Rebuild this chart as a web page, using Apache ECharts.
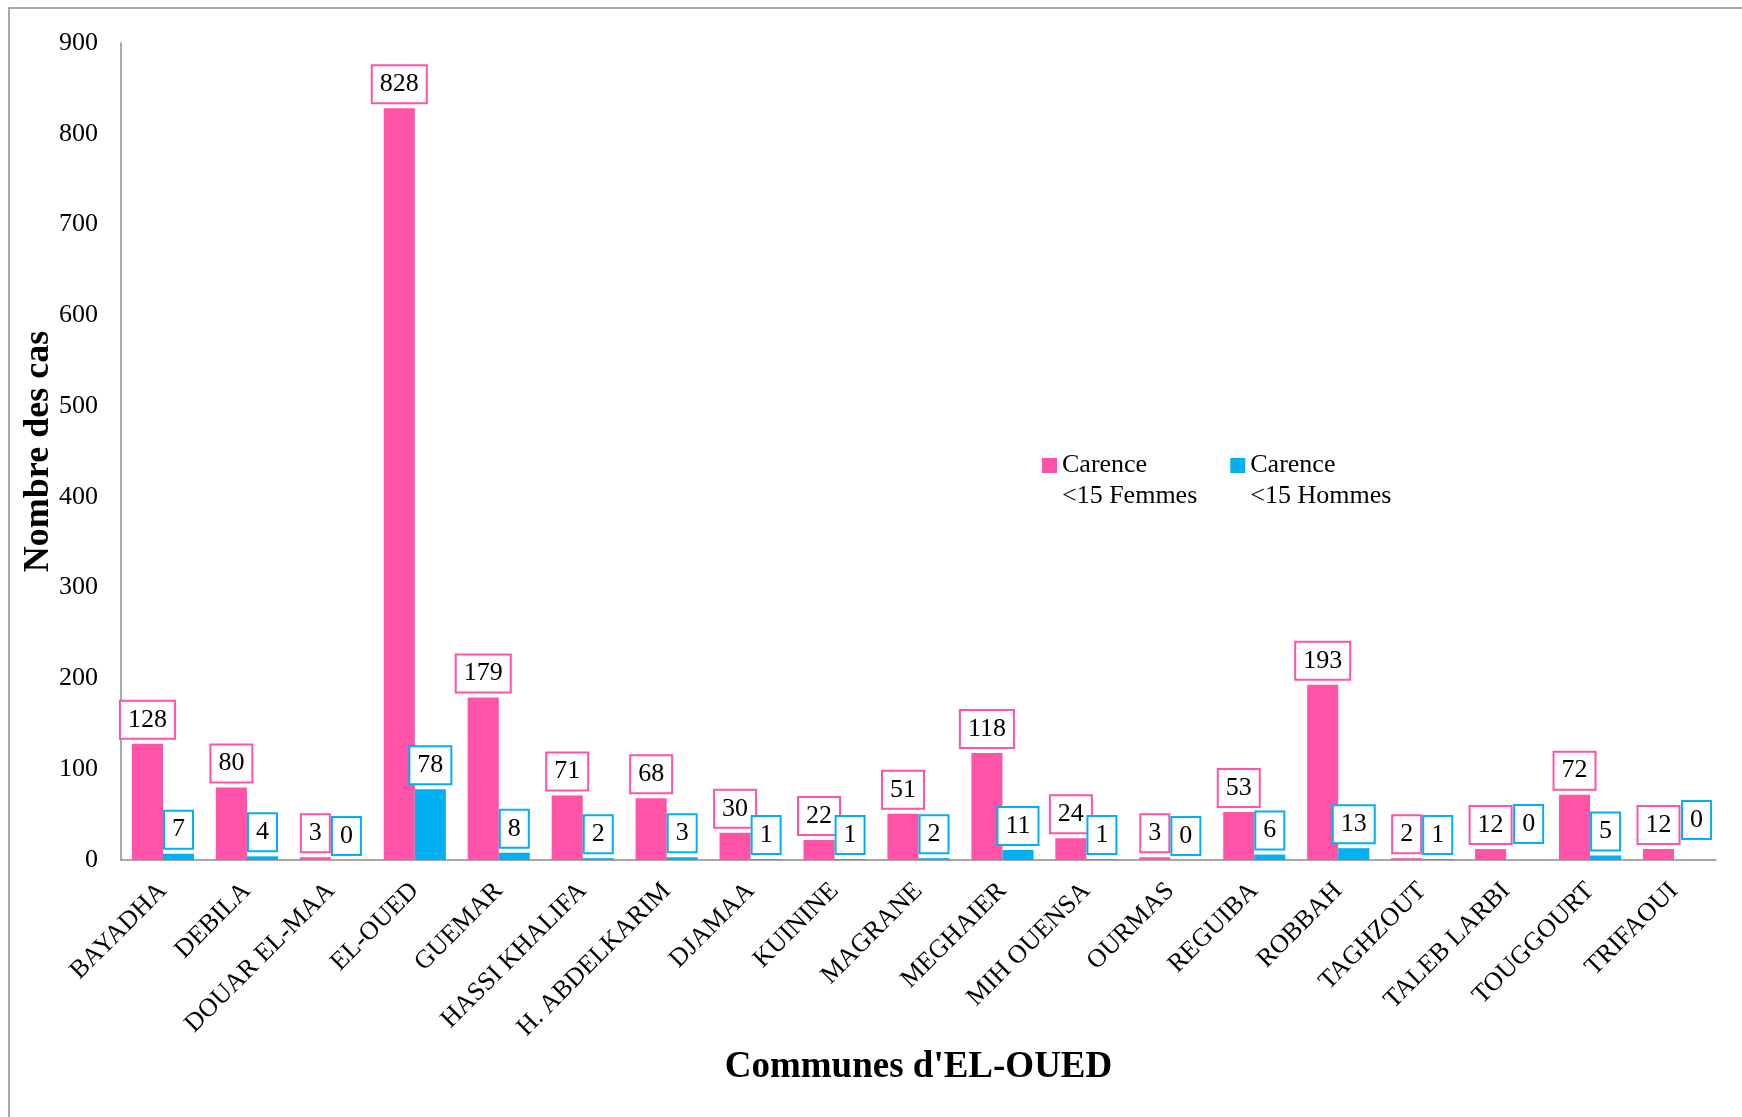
<!DOCTYPE html>
<html>
<head>
<meta charset="utf-8">
<title>Carence &lt;15 par commune</title>
<script src="https://cdn.jsdelivr.net/npm/echarts@6/dist/echarts.min.js"></script>
<style>
  html, body { margin: 0; padding: 0; background: #ffffff; }
  #chart { width: 1742px; height: 1117px; }
</style>
</head>
<body>
<div id="chart"></div>
<script>
// Communes of the El-Oued wilaya
const communes = [
  'BAYADHA', 'DEBILA', 'DOUAR EL-MAA', 'EL-OUED', 'GUEMAR', 'HASSI KHALIFA',
  'H. ABDELKARIM', 'DJAMAA', 'KUININE', 'MAGRANE', 'MEGHAIER', 'MIH OUENSA',
  'OURMAS', 'REGUIBA', 'ROBBAH', 'TAGHZOUT', 'TALEB LARBI', 'TOUGGOURT', 'TRIFAOUI'
];

// Cases of deficiency, under 15 years
const femmes = [128, 80, 3, 828, 179, 71, 68, 30, 22, 51, 118, 24, 3, 53, 193, 2, 12, 72, 12];
const hommes = [7, 4, 0, 78, 8, 2, 3, 1, 1, 2, 11, 1, 0, 6, 13, 1, 0, 5, 0];

// Y axis ticks
const yMin = 0, yMax = 900, yStep = 100;

const seriesNames = ['Carence\n<15 Femmes', 'Carence\n<15 Hommes'];

const PINK = '#ff53a8';
const BLUE = '#00b0f0';
const FONT = "'Liberation Serif', 'Times New Roman', serif";

// a few value boxes are nudged so they do not collide with their neighbours
const hommesLabelNudge = { 16: [7, -12], 18: [7, -16] };

function boxLabel(color) {
  return {
    show: true,
    position: 'top',
    distance: 6,
    fontFamily: FONT,
    fontSize: 26,
    lineHeight: 26,
    color: '#000',
    backgroundColor: '#fff',
    borderColor: color,
    borderWidth: 2,
    padding: [5, 7]
  };
}

const hommesData = hommes.map((v, i) =>
  hommesLabelNudge[i] ? { value: v, label: { offset: hommesLabelNudge[i] } } : v
);

const chart = echarts.init(document.getElementById('chart'), null, { renderer: 'canvas' });

chart.setOption({
  animation: false,
  backgroundColor: '#ffffff',
  textStyle: { fontFamily: FONT },
  graphic: [{
    type: 'rect',
    shape: { x: 9, y: 8, width: 1800, height: 1200 },
    style: { fill: 'none', stroke: '#8c8c8c', lineWidth: 1.5 },
    silent: true
  }],
  grid: { left: 121, right: 26, top: 43, bottom: 257, containLabel: false },
  legend: {
    left: 1042,
    top: 419,
    padding: 0,
    itemWidth: 15,
    itemHeight: 15,
    itemGap: 33,
    icon: 'rect',
    data: seriesNames,
    // leading blank line keeps the swatch level with the first text line
    formatter: name => ' \n' + name,
    textStyle: {
      fontFamily: FONT,
      fontSize: 26,
      lineHeight: 31,
      color: '#000'
    }
  },
  xAxis: {
    type: 'category',
    data: communes,
    name: "Communes d'EL-OUED",
    nameLocation: 'middle',
    nameGap: 189,
    nameMoveOverlap: false,
    nameTextStyle: { fontFamily: FONT, fontSize: 37, fontWeight: 'bold', color: '#000' },
    axisLine: { show: true, lineStyle: { color: '#8c8c8c', width: 1.5 } },
    axisTick: { show: false },
    axisLabel: {
      interval: 0,
      rotate: 45,
      margin: 27,
      fontFamily: FONT,
      fontSize: 26,
      color: '#000'
    },
    splitLine: { show: false }
  },
  yAxis: {
    type: 'value',
    min: yMin,
    max: yMax,
    interval: yStep,
    name: 'Nombre des cas',
    nameLocation: 'middle',
    nameRotate: 90,
    nameGap: 64,
    nameMoveOverlap: false,
    nameTextStyle: { fontFamily: FONT, fontSize: 36, fontWeight: 'bold', color: '#000' },
    axisLine: { show: true, lineStyle: { color: '#8c8c8c', width: 1.5 } },
    axisTick: { show: false },
    axisLabel: { margin: 23, fontFamily: FONT, fontSize: 26, color: '#000' },
    splitLine: { show: false }
  },
  series: [
    {
      name: seriesNames[0],
      type: 'bar',
      data: femmes,
      barGap: '0%',
      barCategoryGap: '26%',
      itemStyle: { color: PINK },
      label: boxLabel(PINK)
    },
    {
      name: seriesNames[1],
      type: 'bar',
      data: hommesData,
      barGap: '0%',
      barCategoryGap: '26%',
      itemStyle: { color: BLUE },
      label: boxLabel(BLUE)
    }
  ]
});
</script>
</body>
</html>
